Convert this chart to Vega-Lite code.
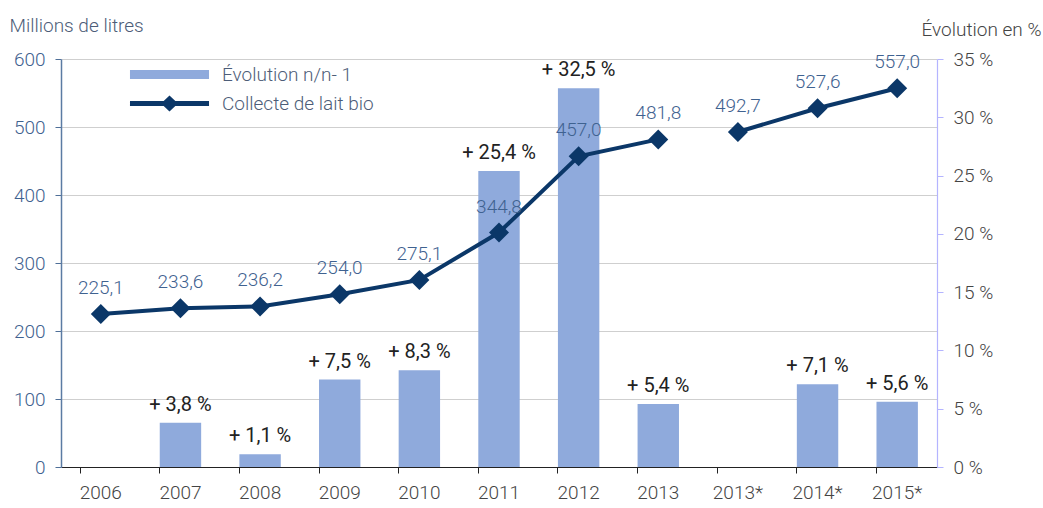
{
  "$schema": "https://vega.github.io/schema/vega-lite/v6.json",
  "width": 876,
  "height": 408,
  "autosize": "none",
  "padding": {"left": 61, "top": 59, "right": 106, "bottom": 41},
  "background": "white",
  "config": {
    "view": {"stroke": null},
    "font": "Roboto",
    "axis": {"labelFont": "Roboto", "titleFont": "Roboto", "titleFontWeight": 300, "labelFontWeight": 300},
    "legend": {"labelFont": "Roboto", "labelFontWeight": 300},
    "text": {"fontWeight": 300}
  },
  "data": {
    "values": [
      {"annee": "2006", "collecte": 225.1, "evo": null, "seg": "a"},
      {"annee": "2007", "collecte": 233.6, "evo": 3.8, "seg": "a"},
      {"annee": "2008", "collecte": 236.2, "evo": 1.1, "seg": "a"},
      {"annee": "2009", "collecte": 254.0, "evo": 7.5, "seg": "a"},
      {"annee": "2010", "collecte": 275.1, "evo": 8.3, "seg": "a"},
      {"annee": "2011", "collecte": 344.8, "evo": 25.4, "seg": "a"},
      {"annee": "2012", "collecte": 457.0, "evo": 32.5, "seg": "a"},
      {"annee": "2013", "collecte": 481.8, "evo": 5.4, "seg": "a"},
      {"annee": "2013*", "collecte": 492.7, "evo": null, "seg": "b"},
      {"annee": "2014*", "collecte": 527.6, "evo": 7.1, "seg": "b"},
      {"annee": "2015*", "collecte": 557.0, "evo": 5.6, "seg": "b"}
    ]
  },
  "encoding": {
    "x": {
      "field": "annee",
      "type": "nominal",
      "sort": null,
      "scale": {
        "domain": ["2006", "2007", "2008", "2009", "2010", "2011", "2012", "2013", "2013*", "2014*", "2015*"],
        "paddingInner": 0.48,
        "paddingOuter": 0.24
      },
      "axis": {
        "title": null,
        "labelAngle": 0,
        "labelFontSize": 19,
        "labelColor": "#444444",
        "labelPadding": 10,
        "bandPosition": 0,
        "tickSize": 6,
        "tickColor": "#222222",
        "domainColor": "#222222",
        "domainWidth": 1.2,
        "grid": false
      }
    }
  },
  "layer": [
    {
      "encoding": {
        "y": {
          "field": "evo",
          "type": "quantitative",
          "scale": {"domain": [0, 35], "nice": false},
          "axis": {
            "orient": "right",
            "values": [0, 5, 10, 15, 20, 25, 30, 35],
            "labelExpr": "datum.value + ' %'",
            "labelFontSize": 19,
            "labelColor": "#444444",
            "labelPadding": 10,
            "tickSize": 6,
            "tickColor": "#b4b4ff",
            "domainColor": "#b4b4ff",
            "domainWidth": 1.2,
            "grid": false,
            "title": "Évolution en %",
            "titleAngle": 0,
            "titleFontSize": 19,
            "titleColor": "#444444",
            "titleAlign": "right",
            "titleBaseline": "middle",
            "titleX": 104,
            "titleY": -30
          }
        }
      },
      "layer": [
        {
          "transform": [{"filter": "datum.evo != null"}],
          "mark": {"type": "bar"},
          "encoding": {
            "color": {
              "datum": "Évolution n/n- 1",
              "scale": {"range": ["#8faadc"]},
              "legend": {
                "orient": "none",
                "legendX": 99,
                "legendY": 6,
                "title": null,
                "padding": 0,
                "symbolType": "M-5.27,-0.6H5.27V0.6H-5.27Z",
                "symbolSize": 225,
                "symbolStrokeWidth": 0,
                "symbolOpacity": 1,
                "labelFontSize": 19,
                "labelColor": "#4d5d78",
                "labelOffset": 43
              }
            }
          }
        },
        {
          "transform": [
            {"filter": "datum.evo != null"},
            {"calculate": "'+ ' + replace(format(datum.evo, '.1f'), '.', ',') + ' %'", "as": "lab"}
          ],
          "mark": {"type": "text", "baseline": "middle", "dy": -18, "fontSize": 20, "fontWeight": 400, "color": "#222222"},
          "encoding": {"text": {"field": "lab"}}
        }
      ]
    },
    {
      "encoding": {
        "y": {
          "field": "collecte",
          "type": "quantitative",
          "scale": {"domain": [0, 600], "nice": false},
          "axis": {
            "orient": "left",
            "values": [0, 100, 200, 300, 400, 500, 600],
            "labelFontSize": 19,
            "labelColor": "#3f6290",
            "labelPadding": 10,
            "tickSize": 6,
            "tickColor": "#4f6f98",
            "domainColor": "#5b7ba3",
            "domainWidth": 1.5,
            "grid": true,
            "gridColor": "#cfcfcf",
            "gridWidth": 1,
            "title": "Millions de litres",
            "titleAngle": 0,
            "titleFontSize": 19,
            "titleColor": "#4d5d78",
            "titleAlign": "left",
            "titleBaseline": "middle",
            "titleX": -52,
            "titleY": -34
          }
        }
      },
      "layer": [
        {
          "mark": {"type": "line", "strokeWidth": 4},
          "encoding": {
            "detail": {"field": "seg"},
            "stroke": {
              "datum": "Collecte de lait bio",
              "scale": {"range": ["#0b3768"]},
              "legend": {
                "orient": "none",
                "legendX": 99,
                "legendY": 35,
                "title": null,
                "padding": 0,
                "symbolType": "M-5.27,-0.33H5.27V0.33H-5.27Z M0,-1.07L1.13,0L0,1.07L-1.13,0Z",
                "symbolSize": 225,
                "symbolStrokeWidth": 0,
                "symbolFillColor": "#0b3768",
                "symbolOpacity": 1,
                "labelFontSize": 19,
                "labelColor": "#4d5d78",
                "labelOffset": 43
              }
            }
          }
        },
        {
          "mark": {"type": "point", "shape": "diamond", "filled": true, "size": 400, "opacity": 1, "color": "#0b3768"}
        },
        {
          "transform": [
            {"calculate": "replace(format(datum.collecte, '.1f'), '.', ',')", "as": "lab"}
          ],
          "mark": {"type": "text", "baseline": "middle", "dy": -26, "fontSize": 19, "color": "#3f6290"},
          "encoding": {"text": {"field": "lab"}}
        }
      ]
    }
  ],
  "resolve": {"scale": {"y": "independent"}}
}
